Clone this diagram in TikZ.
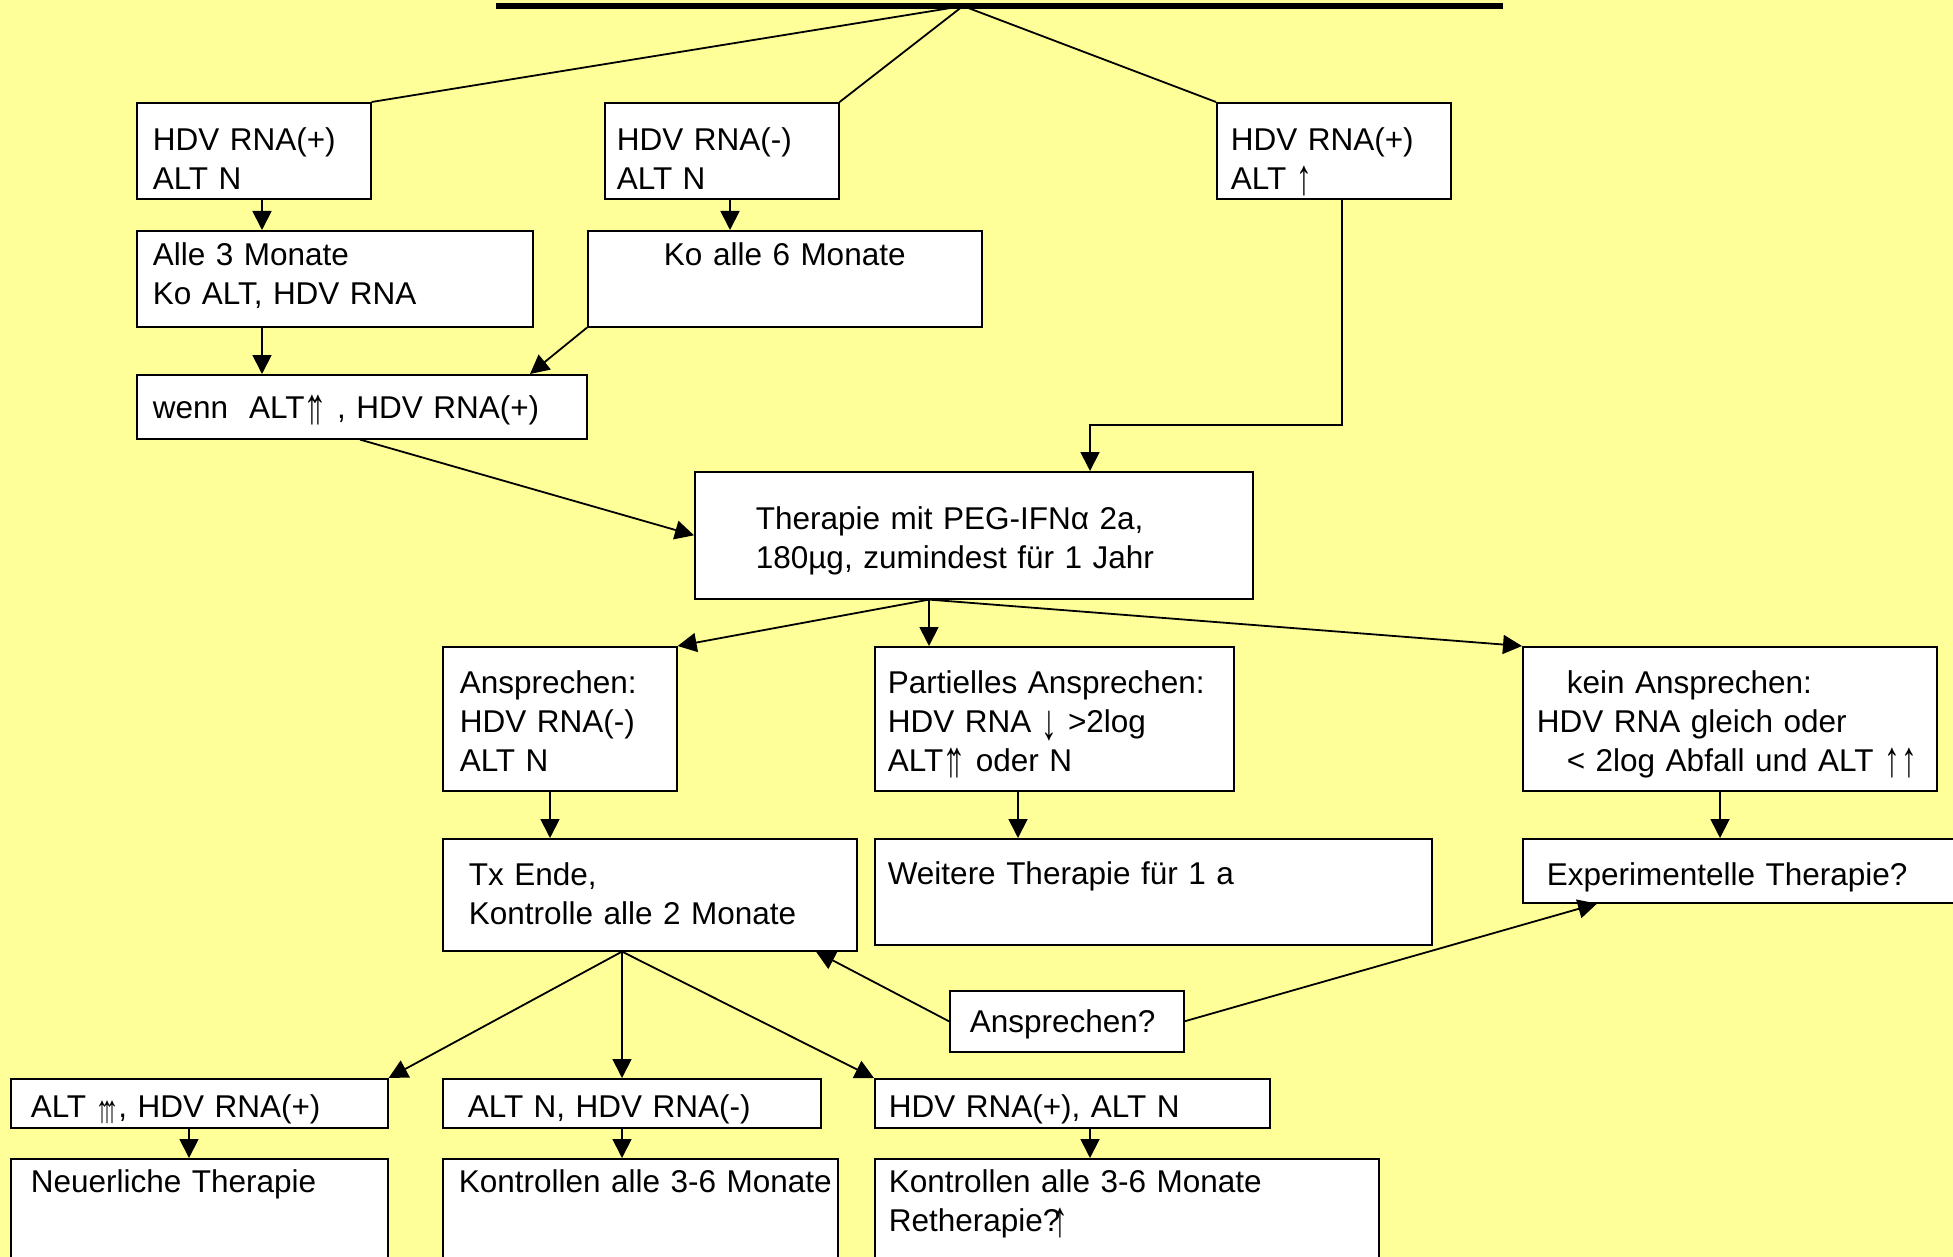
\documentclass[tikz,border=0pt]{standalone}
\usepackage{graphicx}
\usepackage{fontspec}
\setmainfont{Liberation Sans}
\usetikzlibrary{arrows.meta}
\definecolor{sheet}{HTML}{FFFF99}
\newcommand\lpad[1]{\leftskip=#1pt\relax}
\newcommand\up{\raisebox{-5pt}{\scalebox{1}[1.6]{↑}}}
\newcommand\dn{\raisebox{-7pt}{\scalebox{1}[1.6]{↓}}}
\newcommand\upup{\up\kern-.3em\up}

\begin{document}
\begin{tikzpicture}[x=1pt,y=-1pt,
		box/.style={draw, fill=white, line width=1.6pt, anchor=north west, inner sep=0pt, align=left,
			font=\fontsize{31.5}{39}\selectfont},
		link/.style={line width=1.8pt},
		arr/.style={link, -{Triangle[length=19pt,width=19pt]}}]
	\useasboundingbox (0,0) rectangle (1953,1257);
	\fill[sheet] (0,0) rectangle (1953,1257);
	\clip (0,0) rectangle (1953,1257);

	\coordinate (tl) at (496,6);
	\coordinate (tr) at (1503,6);
	\coordinate (top) at (963,6);

	\node[box, text width=234pt, text height=48pt, text depth=48pt] (b1) at (136,102) {\lpad{16}HDV RNA(+)\\ALT N\par};
	\node[box, text width=234pt, text height=48pt, text depth=48pt] (b2) at (604,102) {\lpad{12}HDV RNA(-)\\ALT N\par};
	\node[box, text width=234pt, text height=48pt, text depth=48pt] (b3) at (1216,102) {\lpad{14}HDV RNA(+)\\ALT \up\par};
	\node[box, text width=396pt, text height=35pt, text depth=61pt] (b4) at (136,230) {\lpad{16}Alle 3 Monate\\Ko ALT, HDV RNA\par};
	\node[box, align=center, text width=394pt, text height=35pt, text depth=61pt] (b5) at (587,230) {Ko alle 6 Monate\par};
	\node[box, text width=450pt, text height=44pt, text depth=20pt] (b6) at (136,374) {\lpad{16}wenn\ \ ALT\upup\ , HDV RNA(+)\par};
	\node[box, text width=558pt, text height=58pt, text depth=69pt] (b7) at (694,471) {\lpad{61}Therapie mit PEG-IFNα 2a,\\180µg, zumindest für 1 Jahr\par};
	\node[box, text width=234pt, text height=47pt, text depth=97pt] (b8) at (442,646) {\lpad{17}Ansprechen:\\HDV RNA(-)\\ALT N\par};
	\node[box, text width=359pt, text height=47pt, text depth=97pt] (b9) at (874,646) {\lpad{13}Partielles Ansprechen:\\HDV RNA \dn\ >2log\\ALT\upup{} oder N\par};
	\node[box, text width=414pt, text height=47pt, text depth=97pt] (b10) at (1522,646) {\lpad{14}\hspace*{30pt}kein Ansprechen:\\HDV RNA gleich oder\\\hspace*{30pt}< 2log Abfall und ALT \up\kern2pt\up\par};
	\node[box, text width=414pt, text height=47pt, text depth=65pt] (b11) at (442,838) {\lpad{26}Tx Ende,\\Kontrolle alle 2 Monate\par};
	\node[box, text width=557pt, text height=46pt, text depth=60pt] (b12) at (874,838) {\lpad{13}Weitere Therapie für 1 a\par};
	\node[box, text width=460pt, text height=47pt, text depth=17pt] (b13) at (1522,838) {\lpad{24}Experimentelle Therapie?\par};
	\node[box, text width=234pt, text height=42pt, text depth=19pt] (b14) at (949,990) {\lpad{20}Ansprechen?\par};
	\node[box, text width=377pt, text height=39pt, text depth=10pt] (b15) at (10,1078) {\lpad{20}ALT {\fontsize{24}{24}\selectfont\upup\kern-.3em\up}, HDV RNA(+)\par};
	\node[box, text width=378pt, text height=39pt, text depth=10pt] (b16) at (442,1078) {\lpad{25}ALT N, HDV RNA(-)\par};
	\node[box, text width=395pt, text height=39pt, text depth=10pt] (b17) at (874,1078) {\lpad{14}HDV RNA(+), ALT N\par};
	\node[box, text width=377pt, text height=34pt, text depth=90pt] (b18) at (10,1158) {\lpad{20}Neuerliche Therapie\par};
	\node[box, text width=395pt, text height=34pt, text depth=90pt] (b19) at (442,1158) {\lpad{16}Kontrollen alle 3-6 Monate\par};
	\node[box, text width=504pt, text height=34pt, text depth=90pt] (b20) at (874,1158) {\lpad{14}Kontrollen alle 3-6 Monate\\Retherapie?\kern-.25em\up\par};

	\draw[line width=6pt] (tl) -- (tr);
	\draw[link] (top) -- (b1.north east);
	\draw[link] (top) -- (b2.north east);
	\draw[link] (top) -- (b3.north west);
	\draw[arr] ([xshift=126pt]b1.south west) -- ([xshift=126pt]b4.north west);
	\draw[arr] ([xshift=126pt]b2.south west) -- ([xshift=143pt]b5.north west);
	\draw[arr] ([xshift=126pt]b4.south west) -- ([xshift=126pt]b6.north west);
	\draw[arr] (b5.south west) -- ([xshift=394pt]b6.north west);
	\draw[arr] ([xshift=126pt]b3.south west) -- ++(0,225) -| ([xshift=396pt]b7.north west);
	\draw[arr] ([xshift=224pt]b6.south west) -- (b7.west);
	\coordinate (b7s) at ([xshift=235pt]b7.south west);
	\draw[arr] (b7s) -- (b8.north east);
	\draw[arr] (b7s) -- (b7s |- b9.north);
	\draw[arr] (b7s) -- (b10.north west);
	\draw[arr] ([xshift=108pt]b8.south west) -- ([xshift=108pt]b11.north west);
	\draw[arr] ([xshift=144pt]b9.south west) -- ([xshift=144pt]b12.north west);
	\draw[arr] ([xshift=198pt]b10.south west) -- ([xshift=198pt]b13.north west);
	\coordinate (b11s) at ([xshift=180pt]b11.south west);
	\draw[arr] (b11s) -- (b15.north east);
	\draw[arr] (b11s) -- (b11s |- b16.north);
	\draw[arr] (b11s) -- (b17.north west);
	\draw[arr] (b14.west) -- ([xshift=374pt]b11.south west);
	\draw[arr] (b14.east) -- ([xshift=75pt]b13.south west);
	\draw[arr] ([xshift=179pt]b15.south west) -- ([xshift=179pt]b18.north west);
	\draw[arr] ([xshift=180pt]b16.south west) -- ([xshift=180pt]b19.north west);
	\draw[arr] ([xshift=216pt]b17.south west) -- ([xshift=216pt]b20.north west);
\end{tikzpicture}
\end{document}
